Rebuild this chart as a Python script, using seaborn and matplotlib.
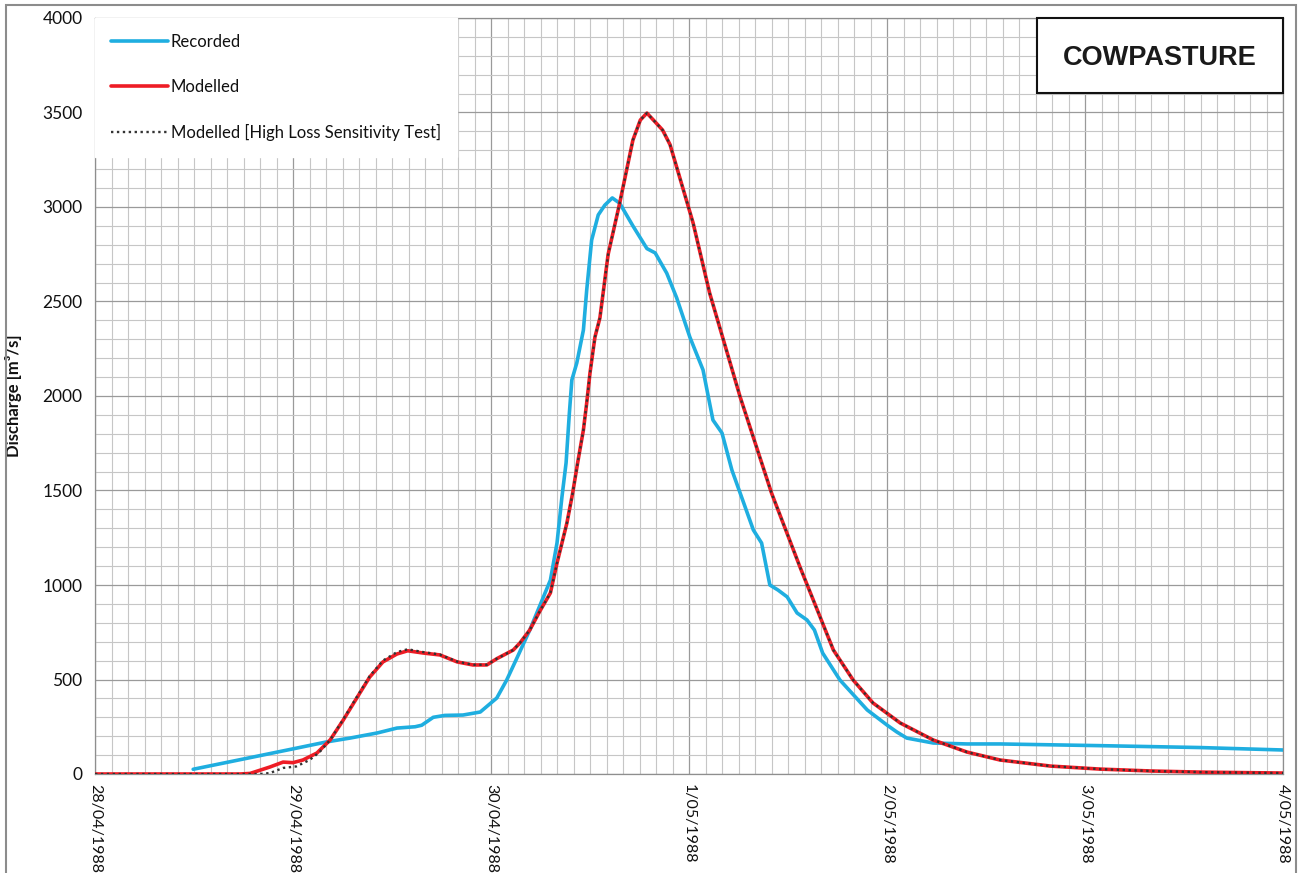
import matplotlib
matplotlib.use("Agg")
import matplotlib.pyplot as plt
from matplotlib.patches import Rectangle
from matplotlib.ticker import MultipleLocator, FixedLocator
import seaborn as sns
import pandas as pd

# ---------------- data (hours since 28/04/1988 00:00, discharge m3/s) -------------
rec_hours = [11.9, 24.0, 28.1, 30.9, 34.2, 36.6, 38.8, 39.6, 41.0, 42.4, 44.6, 46.7,
             48.7, 49.9, 51.2, 52.7, 55.2, 56.0, 56.6, 57.1, 57.5, 57.8, 58.4, 59.2,
             59.6, 60.2, 61.0, 61.8, 62.7, 63.6, 65.2, 66.9, 67.9, 69.3, 70.5, 72.1,
             73.7, 74.9, 76.0, 77.2, 78.5, 79.8, 80.8, 81.8, 82.8, 83.9, 85.1, 86.3,
             87.2, 88.2, 90.3, 93.6, 96.0, 97.2, 98.4, 101.6, 105.7, 109.7, 121.8,
             133.9, 144.0]
rec_q = [25, 133, 170, 190, 217, 243, 250, 258, 300, 310, 312, 328,
         402, 497, 619, 762, 1026, 1222, 1466, 1646, 1910, 2085, 2175, 2349,
         2560, 2825, 2958, 3010, 3048, 3020, 2900, 2780, 2757, 2650, 2520, 2312,
         2138, 1873, 1804, 1608, 1450, 1291, 1222, 1000, 973, 937, 852, 815,
         762, 640, 497, 339, 259, 222, 190, 164, 159, 159, 150,
         140, 127]

mod_hours = [0.0, 17.6, 18.8, 21.2, 22.8, 24.0, 25.2, 26.9, 28.5, 30.1, 31.8, 33.3,
             34.9, 36.6, 37.9, 39.8, 41.8, 43.9, 45.8, 47.5, 48.7, 50.7, 51.5, 52.7,
             53.9, 55.2, 56.0, 57.2, 57.9, 58.5, 59.2, 59.6, 60.0, 60.6, 61.2, 62.2,
             63.6, 65.2, 66.1, 66.9, 67.9, 68.8, 69.7, 70.5, 72.5, 74.5, 78.2, 82.0,
             85.5, 87.9, 89.5, 91.9, 94.3, 97.6, 101.6, 105.7, 109.7, 115.8, 121.8,
             127.9, 133.9, 144.0]
mod_q = [0, 0, 3, 37, 63, 60, 74, 111, 180, 286, 407, 513,
         593, 635, 652, 640, 630, 593, 577, 577, 610, 656, 693, 762,
         860, 958, 1116, 1328, 1487, 1646, 1820, 1963, 2122, 2312, 2413, 2750,
         3021, 3354, 3460, 3497, 3450, 3407, 3330, 3212, 2915, 2545, 1995, 1487,
         1090, 830, 656, 497, 376, 270, 180, 116, 74, 42, 26,
         16, 10, 5]

hl_hours = [0.0, 20.0, 21.2, 22.8, 24.4, 26.0, 27.2, 28.5, 30.1, 31.8, 33.3,
            34.9, 36.6, 37.9, 39.8, 41.8, 43.9, 45.8, 47.5, 48.7, 50.7, 51.5, 52.7,
            53.9, 55.2, 56.0, 57.2, 57.9, 58.5, 59.2, 59.6, 60.0, 60.6, 61.2, 62.2,
            63.6, 65.2, 66.1, 66.9, 67.9, 68.8, 69.7, 70.5, 72.5, 74.5, 78.2, 82.0,
            85.5, 87.9, 89.5, 91.9, 94.3, 97.6, 101.6, 105.7, 109.7, 115.8, 121.8,
            127.9, 133.9, 144.0]
hl_q = [0, 0, 5, 32, 40, 74, 115, 180, 290, 412, 518,
        600, 645, 660, 645, 632, 595, 578, 578, 610, 656, 693, 762,
        860, 958, 1116, 1328, 1487, 1646, 1820, 1963, 2122, 2312, 2413, 2750,
        3021, 3354, 3460, 3497, 3450, 3407, 3330, 3212, 2915, 2545, 1995, 1487,
        1090, 830, 656, 497, 376, 270, 180, 116, 74, 42, 26,
        16, 10, 5]

date_labels = ["28/04/1988", "29/04/1988", "30/04/1988", "1/05/1988",
               "2/05/1988", "3/05/1988", "4/05/1988"]
series_names = ["Recorded", "Modelled", "Modelled [High Loss Sensitivity Test]"]
site_name = "COWPASTURE"

# ---------------- figure ---------------------------------------------------------
sns.set_style("white")
plt.rcParams["font.family"] = ["Lato", "DejaVu Sans"]

W, H = 1304, 873
fig = plt.figure(figsize=(W / 100, H / 100), dpi=100)
ax = fig.add_axes([95 / W, 1 - 774 / H, (1283 - 95) / W, (774 - 18) / H])

df_rec = pd.DataFrame({"h": rec_hours, "q": rec_q})
df_mod = pd.DataFrame({"h": mod_hours, "q": mod_q})
df_hl = pd.DataFrame({"h": hl_hours, "q": hl_q})

sns.lineplot(data=df_rec, x="h", y="q", ax=ax, color="#1FAEE0", lw=2.6,
             label=series_names[0], zorder=3)
sns.lineplot(data=df_mod, x="h", y="q", ax=ax, color="#EE1C25", lw=2.6,
             label=series_names[1], zorder=4)
sns.lineplot(data=df_hl, x="h", y="q", ax=ax, color="#333333", lw=1.7,
             linestyle=(0, (1, 1.5)), label=series_names[2], zorder=5)

ax.set_xlim(0, 144)
ax.set_ylim(0, 4000)
ax.xaxis.set_major_locator(FixedLocator([24 * i for i in range(len(date_labels))]))
ax.xaxis.set_minor_locator(MultipleLocator(2))
ax.yaxis.set_major_locator(MultipleLocator(500))
ax.yaxis.set_minor_locator(MultipleLocator(100))
ax.set_xticklabels(date_labels, rotation=-90, va="top", ha="center",
                   fontsize=11.5, color="#111111")
ax.tick_params(axis="x", pad=2)
ax.tick_params(axis="y", labelsize=12.5, labelcolor="#111111", pad=4)
ax.tick_params(which="both", direction="out", length=5, width=0.8,
               color="#8a8a8a")

ax.grid(which="minor", color="#c6c6c6", lw=0.8)
ax.grid(which="major", color="#9a9a9a", lw=0.9)
ax.set_axisbelow(True)
for s in ax.spines.values():
    s.set_color("#8e8e8e")
    s.set_linewidth(0.9)

ax.set_xlabel("")
ax.set_ylabel("Discharge [m³/s]", fontsize=12, fontweight="bold", color="#111111")
ax.yaxis.set_label_coords(-0.0614, 0.5)

leg = ax.legend(loc="upper left", bbox_to_anchor=(0.0, 1.0), borderaxespad=0.0,
                frameon=True, fancybox=False, facecolor="white", edgecolor="white",
                framealpha=1.0, fontsize=12, handlelength=3.4, handletextpad=0.2,
                labelspacing=1.75, borderpad=0.95)
for t in leg.get_texts():
    t.set_color("#111111")

# site name box
ax.add_patch(Rectangle((0.793, 0.9008), 0.207, 0.0992, transform=ax.transAxes,
                       facecolor="white", edgecolor="#111111", lw=1.5, zorder=6,
                       clip_on=False))
ax.text(0.8965, 0.947, site_name, transform=ax.transAxes, ha="center", va="center",
        fontsize=19.5, fontweight="bold", family="Liberation Sans", color="#1a1a1a",
        zorder=7)

# outer figure border
fig.patches.append(Rectangle((6 / W, -0.1), (1296 - 6) / W, 1.1 - 5 / H,
                             transform=fig.transFigure, fill=False,
                             edgecolor="#8c8c8c", lw=1.5))

fig.savefig("out.png", dpi=100)
